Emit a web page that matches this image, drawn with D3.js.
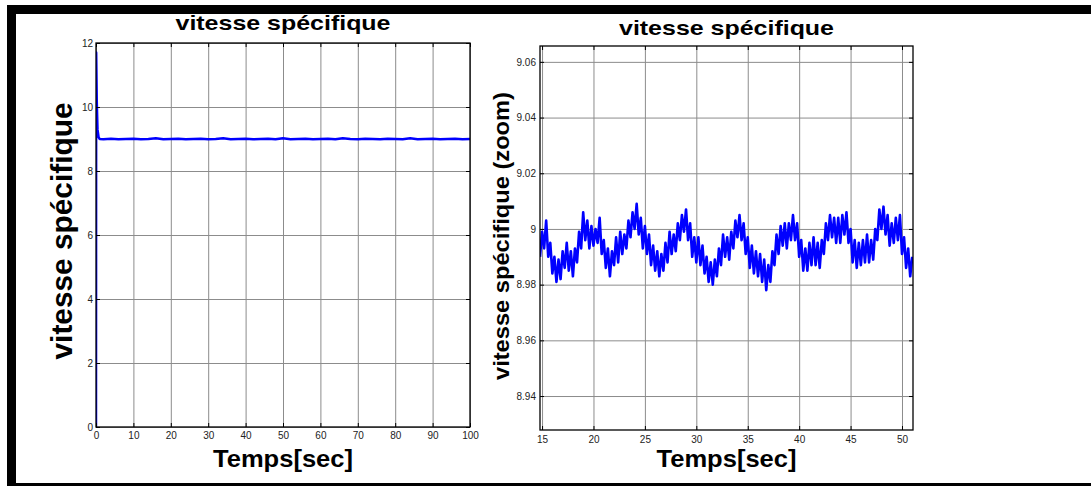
<!DOCTYPE html>
<html>
<head>
<meta charset="utf-8">
<script src="https://cdn.jsdelivr.net/npm/d3@7"></script>
<style>
  body { margin: 0; background: #fff; }
  svg { display: block; font-family: 'Liberation Sans', Arial, sans-serif; }
  .tick text { font-size: 10px; fill: #222; }
  .grid line { stroke: #8c8c8c; stroke-width: 1; }
  .grid path { display: none; }
</style>
</head>
<body>
<svg id="chart"></svg>
<script>
// full run, 0..100 s
const fullTime = [0, 0.05, 0.2, 0.4, 0.7, 1,
  2, 4, 6, 8, 10, 12, 14, 16, 18, 20, 22, 24, 26, 28, 30, 32, 34, 36, 38, 40,
  42, 44, 46, 48, 50, 52, 54, 56, 58, 60, 62, 64, 66, 68, 70, 72, 74, 76, 78, 80,
  82, 84, 86, 88, 90, 92, 94, 96, 98, 100];
const fullSpeed = [0, 11.7, 10.2, 9.3, 9.05, 9.0,
  8.99, 9.01, 8.99, 9.0, 9.01, 8.99, 9.0, 9.02, 8.99, 9.0, 9.01, 8.99, 9.0, 9.01, 8.99, 9.0, 9.02, 8.99, 9.0, 9.01,
  8.99, 9.0, 9.01, 8.99, 9.02, 8.99, 9.0, 9.01, 8.99, 9.0, 9.01, 8.99, 9.02, 9.0, 8.99, 9.01, 9.0, 8.99, 9.01, 9.0,
  8.99, 9.02, 8.99, 9.0, 9.01, 8.99, 9.0, 9.01, 8.99, 9.0];

// zoomed window, one sample every 0.2 s from 14.8 s
const zoomStart = 14.8;
const zoomStep = 0.2;
const zoomSpeed = [
  8.990, 8.999, 8.993, 9.003, 8.990, 8.995, 8.984, 8.990, 8.981, 8.989,
  8.982, 8.992, 8.986, 8.995, 8.985, 8.992, 8.983, 8.993, 8.988, 8.999,
  8.993, 9.006, 8.996, 9.003, 8.993, 9.001, 8.994, 9.000, 8.995, 9.004,
  8.991, 8.996, 8.986, 8.993, 8.983, 8.992, 8.987, 8.997, 8.988, 8.999,
  8.991, 8.998, 8.993, 9.003, 8.997, 9.006, 9.000, 9.009, 8.998, 9.004,
  8.993, 9.001, 8.991, 8.998, 8.987, 8.994, 8.985, 8.992, 8.983, 8.991,
  8.985, 8.995, 8.988, 8.999, 8.991, 8.998, 8.992, 9.002, 8.996, 9.005,
  8.999, 9.007, 8.996, 9.002, 8.990, 8.997, 8.988, 8.997, 8.987, 8.994,
  8.984, 8.990, 8.981, 8.988, 8.980, 8.989, 8.983, 8.993, 8.987, 8.998,
  8.990, 8.997, 8.989, 8.999, 8.993, 9.003, 8.997, 9.005, 8.996, 9.002,
  8.991, 8.997, 8.986, 8.994, 8.984, 8.992, 8.983, 8.991, 8.981, 8.989,
  8.978, 8.987, 8.981, 8.992, 8.987, 8.998, 8.991, 9.001, 8.994, 9.002,
  8.993, 9.002, 8.996, 9.005, 8.996, 9.002, 8.990, 8.996, 8.985, 8.993,
  8.985, 8.995, 8.987, 8.997, 8.987, 8.995, 8.986, 8.996, 8.991, 9.002,
  8.996, 9.005, 8.997, 9.004, 8.995, 9.004, 8.995, 9.005, 8.998, 9.006,
  8.995, 9.000, 8.988, 8.996, 8.986, 8.995, 8.987, 8.996, 8.988, 8.998,
  8.988, 8.996, 8.989, 9.000, 8.996, 9.007, 9.000, 9.008, 8.998, 9.005,
  8.994, 9.002, 8.995, 9.004, 8.996, 9.005, 8.991, 8.997, 8.986, 8.993,
  8.983, 8.990
];

const fullTicksX = [0, 10, 20, 30, 40, 50, 60, 70, 80, 90, 100];
const fullTicksY = [0, 2, 4, 6, 8, 10, 12];
const zoomTicksX = [15, 20, 25, 30, 35, 40, 45, 50];
const zoomTicksY = [8.94, 8.96, 8.98, 9, 9.02, 9.04, 9.06];

const titleText = 'vitesse spécifique';
const xLabelText = 'Temps[sec]';

const width = 1091;
const height = 486;

const svg = d3.select('#chart').attr('width', width).attr('height', height);

// black frame (top, left, bottom)
svg.append('rect').attr('x', 7).attr('y', 5).attr('width', width - 7).attr('height', 9).attr('fill', '#000');
svg.append('rect').attr('x', 7).attr('y', 5).attr('width', 9).attr('height', height - 5).attr('fill', '#000');
svg.append('rect').attr('x', 7).attr('y', 483).attr('width', width - 7).attr('height', 3).attr('fill', '#000');

const drawPanel = (opt, points) => {
  const xScale = d3.scaleLinear().domain(opt.xDomain).range([opt.left, opt.right]);
  const yScale = d3.scaleLinear().domain(opt.yDomain).range([opt.bottom, opt.top]);
  const w = opt.right - opt.left;
  const h = opt.bottom - opt.top;
  const g = svg.append('g');

  g.append('g')
    .classed('grid', true)
    .attr('transform', 'translate(0,' + opt.bottom + ')')
    .call(d3.axisBottom(xScale).tickValues(opt.xTicks).tickSize(-h).tickFormat(''));

  g.append('g')
    .classed('grid', true)
    .attr('transform', 'translate(' + opt.left + ',0)')
    .call(d3.axisLeft(yScale).tickValues(opt.yTicks).tickSize(-w).tickFormat(''));

  const clipId = 'clip-' + opt.id;
  g.append('clipPath')
    .attr('id', clipId)
    .append('rect')
    .attr('x', opt.left)
    .attr('y', opt.top)
    .attr('width', w)
    .attr('height', h);

  const line = d3.line().x(d => xScale(d[0])).y(d => yScale(d[1]));

  g.append('path')
    .datum(points)
    .attr('clip-path', 'url(#' + clipId + ')')
    .attr('fill', 'none')
    .attr('stroke', '#0000ff')
    .attr('stroke-width', opt.lineWidth)
    .attr('stroke-linejoin', 'round')
    .attr('d', line);

  const styleAxis = sel => {
    sel.select('.domain').remove();
    sel.selectAll('.tick line').attr('stroke', '#000');
  };

  g.append('g')
    .attr('transform', 'translate(0,' + opt.bottom + ')')
    .call(d3.axisBottom(xScale).tickValues(opt.xTicks).tickSize(-4).tickPadding(opt.xPad).tickFormat(d3.format('d')))
    .call(styleAxis);

  g.append('g')
    .attr('transform', 'translate(0,' + opt.top + ')')
    .call(d3.axisTop(xScale).tickValues(opt.xTicks).tickSize(-4).tickFormat(''))
    .call(styleAxis);

  g.append('g')
    .attr('transform', 'translate(' + opt.left + ',0)')
    .call(d3.axisLeft(yScale).tickValues(opt.yTicks).tickSize(-4).tickPadding(opt.yPad).tickFormat(opt.yFormat))
    .call(styleAxis);

  g.append('g')
    .attr('transform', 'translate(' + opt.right + ',0)')
    .call(d3.axisRight(yScale).tickValues(opt.yTicks).tickSize(-4).tickFormat(''))
    .call(styleAxis);

  g.selectAll('.tick text').attr('font-family', null).attr('font-size', null);

  g.append('rect')
    .attr('x', opt.left)
    .attr('y', opt.top)
    .attr('width', w)
    .attr('height', h)
    .attr('fill', 'none')
    .attr('stroke', '#000')
    .attr('stroke-width', 1.3);

  g.append('text')
    .attr('x', (opt.left + opt.right) / 2)
    .attr('y', opt.titleY)
    .attr('text-anchor', 'middle')
    .attr('font-weight', 'bold')
    .attr('font-size', 21)
    .attr('textLength', 215)
    .attr('lengthAdjust', 'spacingAndGlyphs')
    .text(titleText);

  g.append('text')
    .attr('x', (opt.left + opt.right) / 2)
    .attr('y', 467)
    .attr('text-anchor', 'middle')
    .attr('font-weight', 'bold')
    .attr('font-size', 24)
    .attr('textLength', 140)
    .attr('lengthAdjust', 'spacingAndGlyphs')
    .text(xLabelText);

  g.append('text')
    .attr('transform', 'translate(' + opt.yLabelX + ',' + opt.yLabelY + ') rotate(-90)')
    .attr('text-anchor', 'middle')
    .attr('font-weight', 'bold')
    .attr('font-size', opt.yLabelSize)
    .attr('textLength', opt.yLabelLength)
    .attr('lengthAdjust', 'spacingAndGlyphs')
    .text(opt.yLabel);
};

drawPanel({
  id: 'full',
  left: 96, right: 470, top: 43, bottom: 427,
  xDomain: [0, 100], yDomain: [0, 12],
  xTicks: fullTicksX, yTicks: fullTicksY,
  yFormat: d3.format('d'),
  xPad: 5, yPad: 3,
  lineWidth: 2.5,
  titleY: 30,
  yLabel: 'vitesse spécifique', yLabelX: 72, yLabelY: 231, yLabelSize: 30, yLabelLength: 257,
}, fullTime.map((t, i) => [t, fullSpeed[i]]));

drawPanel({
  id: 'zoom',
  left: 540, right: 913, top: 46, bottom: 430,
  xDomain: [14.8, 51.07], yDomain: [8.9278, 9.0657],
  xTicks: zoomTicksX, yTicks: zoomTicksY,
  yFormat: d => String(+d.toFixed(2)),
  xPad: 6, yPad: 4,
  lineWidth: 2.6,
  titleY: 35,
  yLabel: 'vitesse spécifique (zoom)', yLabelX: 509, yLabelY: 236, yLabelSize: 22, yLabelLength: 288,
}, zoomSpeed.map((v, i) => [zoomStart + i * zoomStep, v]));
</script>
</body>
</html>
